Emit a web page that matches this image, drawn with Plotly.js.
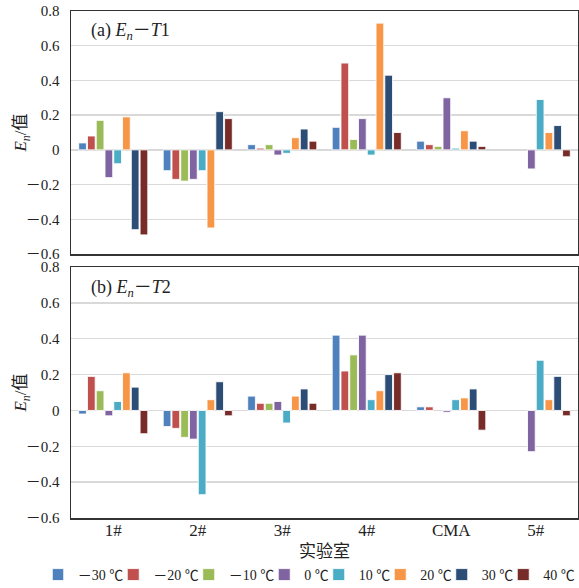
<!DOCTYPE html>
<html><head><meta charset="utf-8">
<script src="https://cdn.plot.ly/plotly-3.0.1.min.js"></script>
<style>html,body{margin:0;padding:0;background:#fff}#chart{width:579px;height:588px}</style>
</head><body><div id="chart"></div>
<script>
const labs = ["1#", "2#", "3#", "4#", "CMA", "5#"];
const seriesNames = ["－30 ℃", "－20 ℃", "－10 ℃", "0 ℃", "10 ℃", "20 ℃", "30 ℃", "40 ℃"];
const colors = ["#4F81BD", "#C0504D", "#9BBB59", "#8064A2", "#4BACC6", "#F79646", "#2C4D75", "#772C2A"];
// (a) En - T1
const t1_m30 = [0.04, -0.12, 0.03, 0.13, 0.05, null];
const t1_m20 = [0.08, -0.17, 0.01, 0.50, 0.03, null];
const t1_m10 = [0.17, -0.18, 0.03, 0.06, 0.02, null];
const t1_0   = [-0.16, -0.17, -0.03, 0.18, 0.30, -0.11];
const t1_10  = [-0.08, -0.12, -0.02, -0.03, 0.01, 0.29];
const t1_20  = [0.19, -0.45, 0.07, 0.73, 0.11, 0.10];
const t1_30  = [-0.46, 0.22, 0.12, 0.43, 0.05, 0.14];
const t1_40  = [-0.49, 0.18, 0.05, 0.10, 0.02, -0.04];
// (b) En - T2
const t2_m30 = [-0.02, -0.09, 0.08, 0.42, 0.02, null];
const t2_m20 = [0.19, -0.10, 0.04, 0.22, 0.02, null];
const t2_m10 = [0.11, -0.15, 0.04, 0.31, null, null];
const t2_0   = [-0.03, -0.16, 0.05, 0.42, -0.01, -0.23];
const t2_10  = [0.05, -0.47, -0.07, 0.06, 0.06, 0.28];
const t2_20  = [0.21, 0.06, 0.08, 0.11, 0.07, 0.06];
const t2_30  = [0.13, 0.16, 0.12, 0.20, 0.12, 0.19];
const t2_40  = [-0.13, -0.03, 0.04, 0.21, -0.11, -0.03];
const yTicks = [-0.6, -0.4, -0.2, 0, 0.2, 0.4, 0.6, 0.8];
const yTickText = ["－0.6", "－0.4", "－0.2", "0", "0.2", "0.4", "0.6", "0.8"];

const t1 = [t1_m30, t1_m20, t1_m10, t1_0, t1_10, t1_20, t1_30, t1_40];
const t2 = [t2_m30, t2_m20, t2_m10, t2_0, t2_10, t2_20, t2_30, t2_40];
const FONT = "Liberation Serif, Times New Roman, Noto Sans CJK SC, serif";
const traces = [];
t1.forEach((v, i) => traces.push({type: 'bar', x: labs, y: v, name: seriesNames[i], legendgroup: 's' + i,
  marker: {color: colors[i], line: {color: 'rgba(255,255,255,0.85)', width: 1}}, xaxis: 'x', yaxis: 'y', showlegend: true}));
t2.forEach((v, i) => traces.push({type: 'bar', x: labs, y: v, name: seriesNames[i], legendgroup: 's' + i,
  marker: {color: colors[i], line: {color: 'rgba(255,255,255,0.85)', width: 1}}, xaxis: 'x2', yaxis: 'y2', showlegend: false}));

const yax = (dom, anchor) => ({domain: dom, anchor: anchor, range: [-0.6, 0.8], tickvals: yTicks, ticktext: yTickText,
  showgrid: true, gridcolor: '#d9d9d9', gridwidth: 1.5, zeroline: true, zerolinecolor: '#d9d9d9', zerolinewidth: 1.5,
  showline: true, mirror: true, linecolor: '#333', linewidth: 1.5, ticks: '', ticklen: 0, ticklabelstandoff: 7,
  tickfont: {family: FONT, size: 15, color: '#222'},
  title: {text: '<i>E</i><sub><i>n</i></sub>/值', font: {family: FONT, size: 17, color: '#222'}}});
const xax = (anchor, show) => ({anchor: anchor, type: 'category', showline: true, mirror: true, linecolor: '#333', linewidth: 1.5,
  showticklabels: show, ticks: '', ticklen: 0, ticklabelstandoff: -4, tickfont: {family: FONT, size: 17, color: '#222'}});

const layout = {
  width: 579, height: 588, paper_bgcolor: '#fff', plot_bgcolor: '#fff',
  margin: {l: 71, r: 1, t: 11, b: 70, autoexpand: false},
  barmode: 'group', bargap: 0.17, bargroupgap: 0.12,
  font: {family: FONT, color: '#222'},
  xaxis: xax('y', false),
  xaxis2: Object.assign(xax('y2', true), {matches: 'x', title: {text: '实验室', font: {family: FONT, size: 17, color: '#222'}, standoff: 6}}),
  yaxis: yax([0.5207, 1], 'x'),
  yaxis2: yax([0, 0.495], 'x2'),
  showlegend: true,
  legend: {orientation: 'h', x: -0.036, xanchor: 'left', y: -0.1124, yanchor: 'middle',
    font: {family: FONT, size: 14, color: '#222'}, indentation: -15,
    itemwidth: 30, tracegroupgap: 0, traceorder: 'normal', bgcolor: 'rgba(0,0,0,0)'},
  annotations: [
    {xref: 'paper', yref: 'paper', x: 0.035, y: 0.959, xanchor: 'left', yanchor: 'middle', showarrow: false,
     text: '(a) <i>E</i><sub><i>n</i></sub>－<i>T</i>1', font: {family: FONT, size: 18, color: '#222'}},
    {xref: 'paper', yref: 'paper', x: 0.035, y: 0.4517, xanchor: 'left', yanchor: 'middle', showarrow: false,
     text: '(b) <i>E</i><sub><i>n</i></sub>－<i>T</i>2', font: {family: FONT, size: 18, color: '#222'}}
  ]
};
Plotly.newPlot('chart', traces, layout, {displayModeBar: false, staticPlot: true});
</script></body></html>
